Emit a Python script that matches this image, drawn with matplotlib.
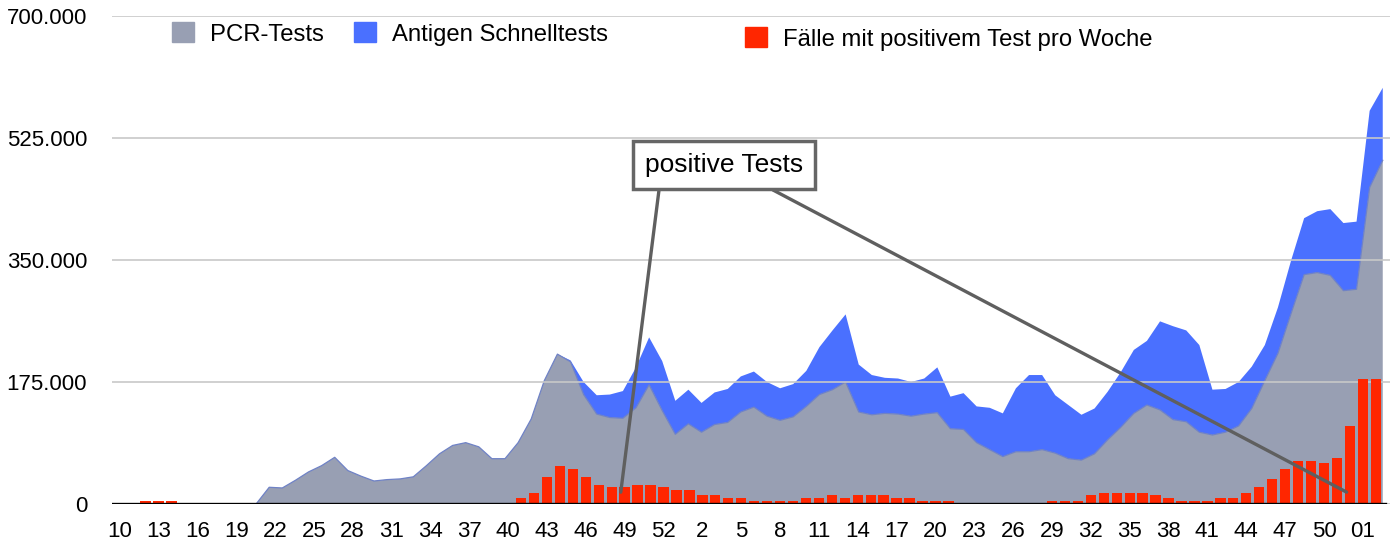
import matplotlib.pyplot as plt
from matplotlib.patches import Patch
import numpy as np

plt.rcParams['font.family'] = ['Liberation Sans', 'DejaVu Sans']

# Kalenderwochen 10/2020 .. 02/2022, jede dritte beschriftet
week_labels = ['10', '13', '16', '19', '22', '25', '28', '31', '34', '37', '40',
               '43', '46', '49', '52', '2', '5', '8', '11', '14', '17', '20',
               '23', '26', '29', '32', '35', '38', '41', '44', '47', '50', '01']

# Werte in Tausend
pcr_tests = [0] * 12 + [
    24, 23, 34, 46, 55, 67, 48, 40, 33, 35, 36, 39, 55, 72, 84, 88, 82, 65,
    65, 88, 122, 177, 215, 204, 157, 129, 124, 123, 138, 171, 134, 100, 115,
    103, 114, 117, 132, 139, 126, 120, 125, 140, 157, 164, 175, 132, 128, 130,
    129, 126, 129, 131, 108, 107, 88, 78, 68, 75, 75, 78, 73, 65, 63, 72, 92,
    110, 130, 142, 135, 121, 118, 103, 99, 103, 112, 137, 177, 216, 273, 329,
    332, 328, 306, 308, 454, 493]

antigen_tests = [0] * 35 + [
    2, 18, 27, 33, 39, 58, 68, 71, 48, 49, 42, 46, 48, 51, 51, 49, 46, 47, 51,
    68, 85, 97, 68, 57, 51, 51, 49, 51, 65, 46, 52, 52, 60, 62, 91, 110, 107,
    83, 77, 65, 65, 69, 79, 91, 92, 127, 134, 131, 125, 65, 62, 63, 60, 51, 66,
    76, 81, 88, 95, 97, 97, 110, 104]

positive_cases = [
    0, 0, 4.3, 4.3, 4.3] + [0] * 26 + [
    8.6, 16, 39, 55, 50, 39, 27, 24, 24, 27, 27, 24, 20, 20, 13, 13, 8.6, 8.6,
    4.3, 4.3, 4.3, 4.3, 8.6, 8.6, 13, 8.6, 13, 13, 13, 8.6, 8.6, 4.3, 4.3, 4.3,
    0, 0, 0, 0, 0, 0, 0, 4.3, 4.3, 4.3, 13, 16, 16, 16, 16, 13, 8.6, 4.3, 4.3,
    4.3, 8.6, 8.6, 16, 24, 36, 50, 62, 62, 59, 66, 112, 180, 180]

n = len(pcr_tests)
idx = np.arange(n)
area_x = np.linspace(-0.587, 97.54, n)

fig = plt.figure(figsize=(13.92, 5.44), dpi=100)
ax = fig.add_axes([112 / 1392, 40 / 544, (1390 - 112) / 1392, (528 - 40) / 544])

gray = '#989fb3'
blue = '#4a70ff'
red = '#ff2600'

ax.stackplot(area_x, pcr_tests, antigen_tests, colors=[gray, blue],
             linewidth=0, zorder=1)
ax.plot(area_x, pcr_tests, color='#6f82c6', lw=0.9, zorder=1.5)
ax.bar(idx, positive_cases, width=0.8, color=red, zorder=3)
ax.axhline(0, xmin=0, xmax=(1385 - 112) / (1390 - 112), color='black', lw=2.4, zorder=4)

ax.set_xlim(-0.587, 98.1)
ax.set_ylim(0, 700)
yticks = [0, 175, 350, 525, 700]
ax.set_yticks(yticks)
ax.set_yticklabels(['0' if v == 0 else f'{v * 1000:,.0f}'.replace(',', '.') for v in yticks])
ax.set_xticks(idx[::3])
ax.set_xticklabels(week_labels)
ax.tick_params(axis='both', length=0, labelsize=16)
ax.tick_params(axis='x', pad=12)
ax.tick_params(axis='y', pad=18)
ax.yaxis.grid(True, color='#c8c8c8', lw=1.2)
for s in ax.spines.values():
    s.set_visible(False)

leg1 = ax.legend(handles=[Patch(color=gray, label='PCR-Tests'),
                          Patch(color=blue, label='Antigen Schnelltests')],
                 loc='center left', bbox_to_anchor=(172 / 1392, 1 - 34 / 544),
                 bbox_transform=fig.transFigure, ncol=2, frameon=False,
                 fontsize=17.2, handlelength=0.92, handleheight=0.92,
                 handletextpad=0.68, columnspacing=1.25, borderpad=0, borderaxespad=0)
ax.add_artist(leg1)
ax.legend(handles=[Patch(color=red, label='Fälle mit positivem Test pro Woche')],
          loc='center left', bbox_to_anchor=(745 / 1392, 1 - 39 / 544),
          bbox_transform=fig.transFigure, frameon=False,
          fontsize=17.2, handlelength=0.92, handleheight=0.92,
          handletextpad=0.68, borderpad=0, borderaxespad=0)

line_style = dict(arrowstyle='-', color='#5f5f5f', lw=2.4, shrinkA=0, shrinkB=0)
ax.annotate('', xy=(38.7, 17), xytext=(659 / 1392, 1 - 190 / 544),
            textcoords='figure fraction', arrowprops=line_style, zorder=5)
ax.annotate('', xy=(94.75, 17), xytext=(773 / 1392, 1 - 190 / 544),
            textcoords='figure fraction', arrowprops=line_style, zorder=5)
ax.text(724 / 1392, 1 - 165 / 544, 'positive Tests', transform=fig.transFigure,
        ha='center', va='center', fontsize=19, zorder=6,
        bbox=dict(boxstyle='square,pad=0.44', fc='white', ec='#666666', lw=2.5))

fig.savefig('out.png', dpi=100)
